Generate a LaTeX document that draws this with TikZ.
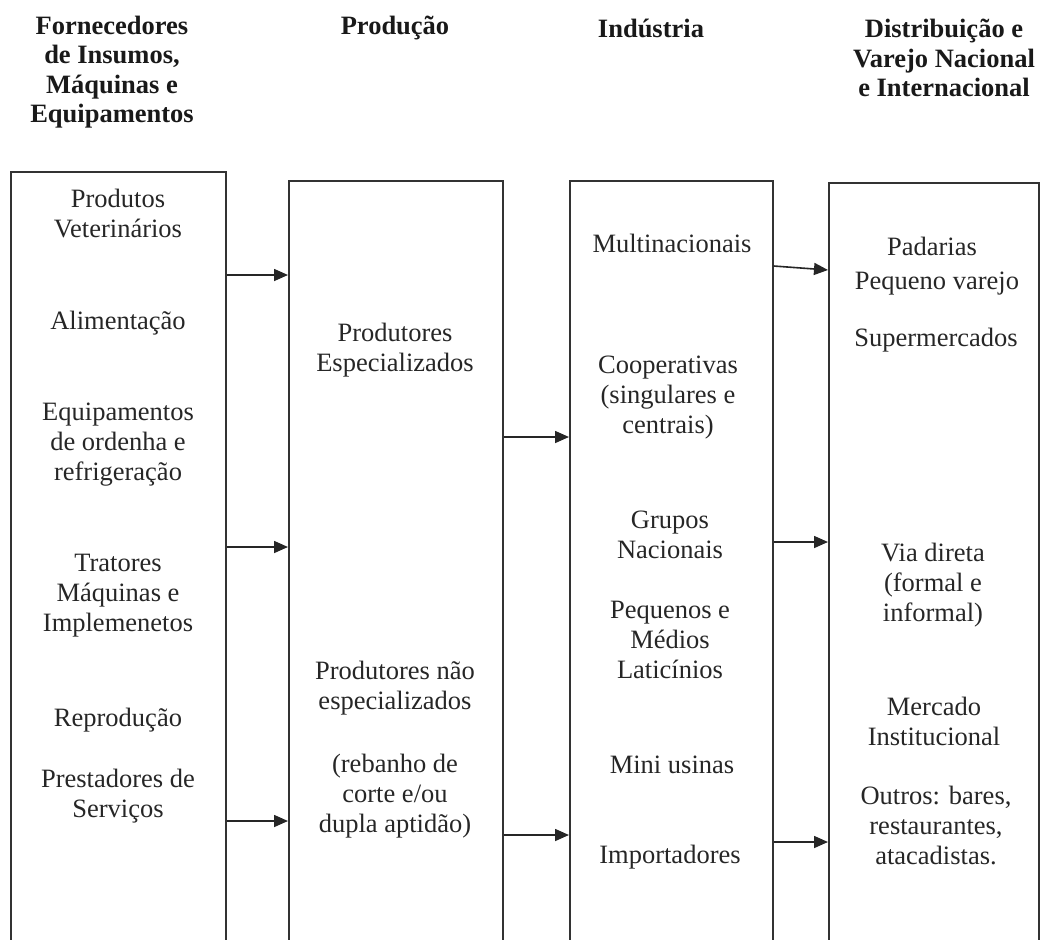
\documentclass[tikz,border=0pt]{standalone}
\usepackage{fontspec}
\setmainfont{Liberation Serif}
\usetikzlibrary{arrows.meta}
\tikzset{
  box/.style={draw=black!80, line width=1.6bp, rectangle, anchor=north west, inner sep=0pt},
  txt/.style={align=center, inner sep=0pt, font=\fontsize{26.5bp}{30bp}\selectfont, text=black!85},
  hdr/.style={align=center, inner sep=0pt, font=\fontsize{26.5bp}{29.5bp}\selectfont\bfseries, text=black!90},
  arr/.style={line width=1.6bp, draw=black!85, -{Triangle[length=14bp,width=12bp]}}
}
\begin{document}
\begin{tikzpicture}[x=1bp,y=-1bp]
\useasboundingbox (0,0) rectangle (1048,940);
\clip (0,0) rectangle (1048,940);

% headers
\node[hdr] (h1) at (112,72) {Fornecedores\\de Insumos,\\Máquinas e\\Equipamentos};
\node[hdr] (h2) at (395,28) {Produção};
\node[hdr] (h3) at (651,28) {Indústria};
\node[hdr] (h4) at (944,58) {Distribuição e\\Varejo Nacional\\e Internacional};

% boxes
\node[box, minimum width=215bp, minimum height=900bp] (b1) at (10,171) {};
\node[box, minimum width=214bp, minimum height=900bp] (b2) at (288,180) {};
\node[box, minimum width=203bp, minimum height=900bp] (b3) at (569,180) {};
\node[box, minimum width=210bp, minimum height=900bp] (b4) at (828,182) {};

% column 1
\node[txt] (p1) at (118,214) {Produtos\\Veterinários};
\node[txt] (p2) at (118,323) {Alimentação};
\node[txt] (p3) at (118,445) {Equipamentos\\de ordenha e\\refrigeração};
\node[txt] (p4) at (118,596) {Tratores\\Máquinas e\\Implemenetos};
\node[txt] (p5) at (118,720) {Reprodução};
\node[txt] (p6) at (118,796) {Prestadores de\\Serviços};

% column 2
\node[txt] (q1) at (395,350) {Produtores\\Especializados};
\node[txt] (q2) at (395,688) {Produtores não\\especializados};
\node[txt] (q3) at (395,796) {(rebanho de\\corte e/ou\\dupla aptidão)};

% column 3
\node[txt] (r1) at (672,243) {Multinacionais};
\node[txt] (r2) at (668,398) {Cooperativas\\(singulares e\\centrais)};
\node[txt] (r3) at (670,535) {Grupos\\Nacionais};
\node[txt] (r4) at (670,640) {Pequenos e\\Médios\\Laticínios};
\node[txt] (r5) at (672,765) {Mini usinas};
\node[txt] (r6) at (670,857) {Importadores};

% column 4
\node[txt] (s1) at (932,246) {Padarias};
\node[txt] (s2) at (937,284) {Pequeno varejo};
\node[txt] (s3) at (936,340) {Supermercados};
\node[txt] (s4) at (933,585) {Via direta\\(formal e\\informal)};
\node[txt] (s5) at (934,721) {Mercado\\Institucional};
\node[txt] (s6) at (936,825) {Outros: bares,\\restaurantes,\\atacadistas.};

% arrow heights
\coordinate (y1) at (0,275);
\coordinate (y2) at (0,547);
\coordinate (y3) at (0,821);
\coordinate (y4) at (0,437);
\coordinate (y5) at (0,835);
\coordinate (y6a) at (0,266);
\coordinate (y6b) at (0,270);
\coordinate (y7) at (0,542);
\coordinate (y8) at (0,842);

\draw[arr] (b1.east |- y1) -- (b2.west |- y1);
\draw[arr] (b1.east |- y2) -- (b2.west |- y2);
\draw[arr] (b1.east |- y3) -- (b2.west |- y3);
\draw[arr] (b2.east |- y4) -- (b3.west |- y4);
\draw[arr] (b2.east |- y5) -- (b3.west |- y5);
\draw[arr] (b3.east |- y6a) -- (b4.west |- y6b);
\draw[arr] (b3.east |- y7) -- (b4.west |- y7);
\draw[arr] (b3.east |- y8) -- (b4.west |- y8);
\end{tikzpicture}
\end{document}
